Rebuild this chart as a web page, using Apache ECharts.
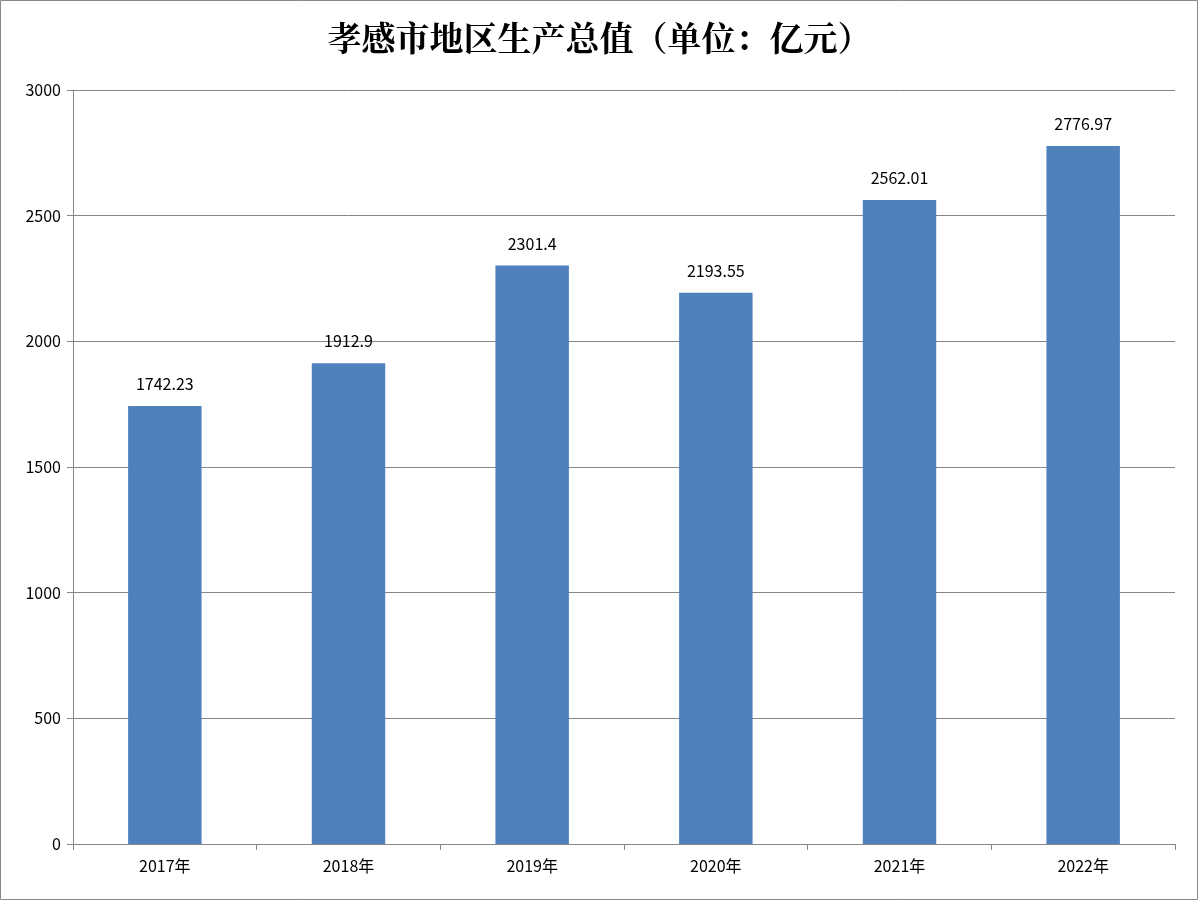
<!DOCTYPE html>
<html><head><meta charset="utf-8">
<script src="https://cdn.jsdelivr.net/npm/echarts@6/dist/echarts.min.js"></script>
<style>html,body{margin:0;padding:0;background:#fff}#c{width:1199px;height:901px}</style>
</head><body><div id="c"></div>
<script>
const categories = ['2017年','2018年','2019年','2020年','2021年','2022年'];
const values = [1742.23, 1912.9, 2301.4, 2193.55, 2562.01, 2776.97];
const chart = echarts.init(document.getElementById('c'));
chart.setOption({
  animation: false,
  backgroundColor: '#fff',
  graphic: [{type:'rect', shape:{x:0.5,y:0.5,width:1197,height:899}, style:{fill:'none',stroke:'#888',lineWidth:1}}],
  title: {text:'孝感市地区生产总值（单位：亿元）', left:'center', top:16,
    textStyle:{fontFamily:'Noto Serif CJK SC, Noto Sans CJK SC, serif', fontSize:34, fontWeight:'bold', color:'#000'}},
  grid: {left:73, right:24, top:90, bottom:57},
  xAxis: {type:'category', data:categories,
    axisLine:{lineStyle:{color:'#868686'}},
    axisTick:{show:true, alignWithLabel:false, interval:0, lineStyle:{color:'#868686'}, length:6},
    axisLabel:{color:'#000', fontSize:16, fontFamily:'Noto Sans CJK SC, sans-serif', margin:14}},
  yAxis: {type:'value', min:0, max:3000, interval:500,
    axisLine:{show:true, lineStyle:{color:'#868686'}},
    axisTick:{show:true, length:6, lineStyle:{color:'#868686'}},
    axisLabel:{color:'#000', fontSize:16, fontFamily:'Noto Sans CJK SC, sans-serif', margin:12, formatter: v => String(v)},
    splitLine:{lineStyle:{color:'#868686'}}},
  series: [{type:'bar', data:values, barWidth:'40%', itemStyle:{color:'#4F81BD'},
    label:{show:true, position:'top', distance:14, color:'#000', fontSize:16, fontFamily:'Noto Sans CJK SC, sans-serif'}}]
});
</script></body></html>
